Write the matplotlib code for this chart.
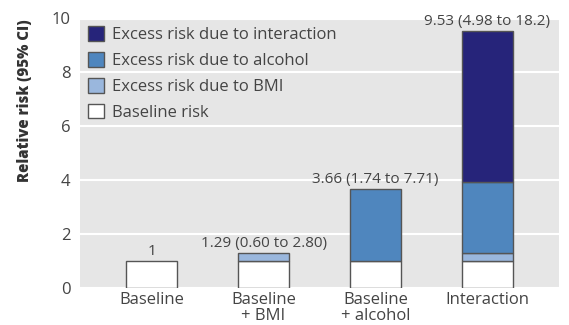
import matplotlib
matplotlib.use("Agg")
import matplotlib.pyplot as plt
from matplotlib.patches import Patch
import numpy as np

categories = ["Baseline", "Baseline\n+ BMI", "Baseline\n+ alcohol", "Interaction"]
baseline_risk = [1, 1, 1, 1]
excess_bmi = [0, 0.29, 0, 0.29]
excess_alcohol = [0, 0, 2.66, 2.66]
excess_interaction = [0, 0, 0, 5.58]
bar_labels = ["1", "1.29 (0.60 to 2.80)", "3.66 (1.74 to 7.71)", "9.53 (4.98 to 18.2)"]
yticks = [0, 2, 4, 6, 8, 10]

plt.rcParams['font.family'] = ['Open Sans', 'DejaVu Sans']

fig = plt.figure(figsize=(5.69, 3.25), dpi=100)
ax = fig.add_axes([80/569, 1-288/325, 479/569, (288-18.5)/325])
ax.set_facecolor("#e6e6e6")

x = np.arange(len(categories))
w = 0.45
edge = "#555555"
cols = {"base": "#ffffff", "bmi": "#9ab7dd", "alc": "#4f86be", "int": "#26247a"}

b0 = np.array(baseline_risk, float)
b1 = np.array(excess_bmi, float)
b2 = np.array(excess_alcohol, float)
b3 = np.array(excess_interaction, float)

def draw(vals, bottom, color):
    m = vals > 0
    ax.bar(x[m], vals[m], w, bottom=bottom[m], color=color, edgecolor=edge, linewidth=1.0, zorder=3)

draw(b0, np.zeros_like(b0), cols["base"])
draw(b1, b0, cols["bmi"])
draw(b2, b0 + b1, cols["alc"])
draw(b3, b0 + b1 + b2, cols["int"])

totals = b0 + b1 + b2 + b3
for xi, t, lab in zip(x, totals, bar_labels):
    ax.text(xi, t + 0.22, lab, ha="center", va="baseline", fontsize=11, color="#444444", zorder=4)

ax.set_xlim(-0.64, 3.64)
ax.set_ylim(0, 10)
ax.set_yticks(yticks)
ax.set_xticks(x)
ax.set_xticklabels(categories, fontsize=12, color="#444444", linespacing=0.95)
ax.tick_params(axis="y", labelsize=12, labelcolor="#444444", length=0, pad=7)
ax.tick_params(axis="x", length=0, pad=3)
ax.grid(axis="y", color="white", linewidth=1.5, zorder=0)
ax.set_axisbelow(True)
for s in ax.spines.values():
    s.set_visible(False)

ax.set_ylabel("Relative risk (95% CI)", fontsize=10.8, fontweight=800, color="#333333")
ax.yaxis.set_label_coords(-0.098, 0.695)

handles = [
    Patch(facecolor=cols["int"], edgecolor=edge, label="Excess risk due to interaction"),
    Patch(facecolor=cols["alc"], edgecolor=edge, label="Excess risk due to alcohol"),
    Patch(facecolor=cols["bmi"], edgecolor=edge, label="Excess risk due to BMI"),
    Patch(facecolor=cols["base"], edgecolor=edge, label="Baseline risk"),
]
leg = ax.legend(handles=handles, loc="upper left", frameon=False, fontsize=12,
                handlelength=1.0, handleheight=1.0, handletextpad=0.5,
                labelspacing=0.52, borderaxespad=0.05, bbox_to_anchor=(0.0, 1.0))
for t in leg.get_texts():
    t.set_color("#444444")

fig.savefig("out.png", dpi=100)
